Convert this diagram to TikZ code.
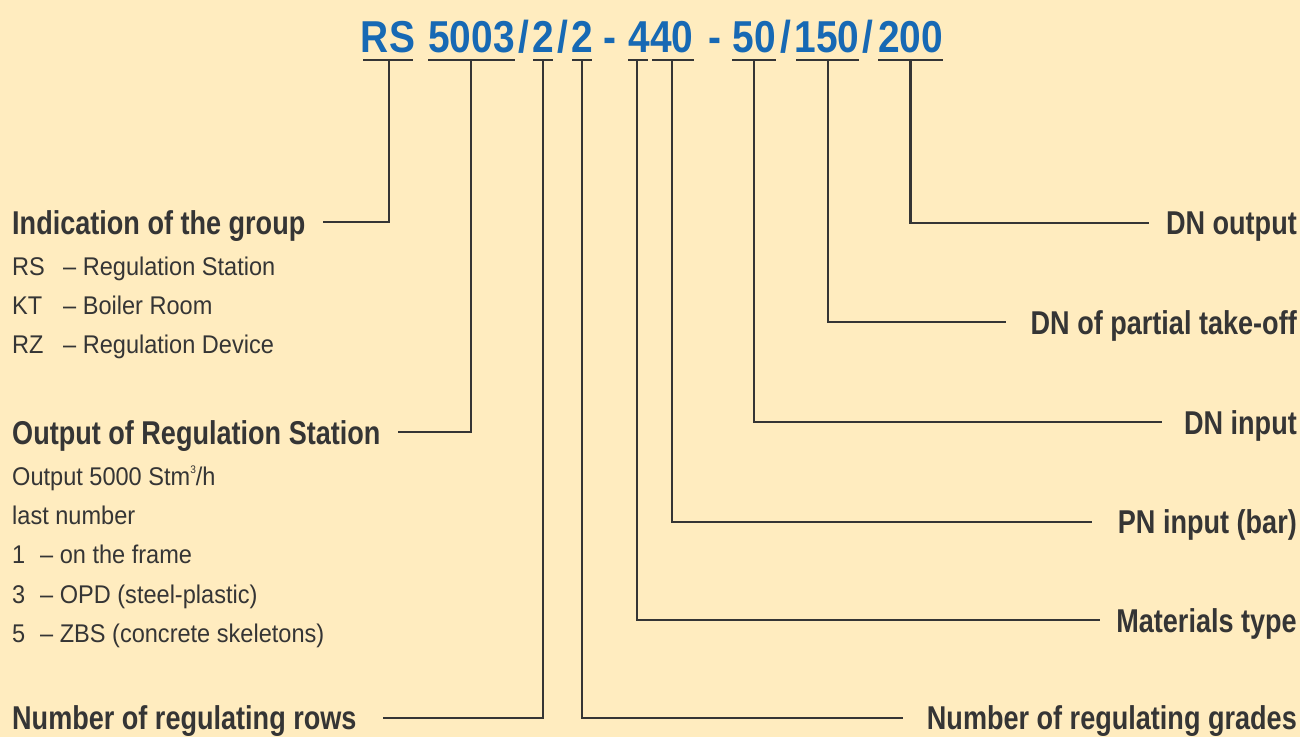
\documentclass[tikz,border=0pt]{standalone}
\usepackage{fontspec}
\setmainfont{Liberation Sans}
\newfontfamily\boldcond[FakeStretch=0.82]{Liberation Sans}
\newfontfamily\regcond[FakeStretch=0.92]{Liberation Sans}
\newfontfamily\titlecond[FakeStretch=0.87]{Liberation Sans}
\definecolor{bgyellow}{HTML}{FFECBF}
\definecolor{codeblue}{HTML}{1769B4}
\definecolor{ink}{HTML}{353535}
\begin{document}
\begin{tikzpicture}[x=1pt,y=-1pt,
  titletok/.style={font=\titlecond\bfseries\fontsize{44.7}{44.7}\selectfont, text=codeblue, inner sep=0pt, anchor=base},
  head/.style={font=\boldcond\bfseries\fontsize{33}{33}\selectfont, text=ink, inner sep=0pt, anchor=base west},
  headr/.style={head, anchor=base east},
  body/.style={font=\regcond\fontsize{25.6}{25.6}\selectfont, text=ink, inner sep=0pt, anchor=base west},
  lead/.style={draw=ink, line width=2.5pt},
  underbar/.style={draw=ink, line width=2.8pt}]
\fill[bgyellow] (0,0) rectangle (1300,737);
\useasboundingbox (0,0) rectangle (1300,737);

% ---- code line ----
\node[titletok] (tRS)   at (388,52)   {RS};
\node[titletok] (t5003) at (471.5,52) {5003};
\node[titletok] (sl1)   at (524,52)   {/};
\node[titletok] (t2a)   at (543,52)   {2};
\node[titletok] (sl2)   at (562.5,52) {/};
\node[titletok] (t2b)   at (582,52)   {2};
\node[titletok] (dh1)   at (610,52)   {-};
\node[titletok] (t440)  at (661,52)   {440};
\node[titletok] (dh2)   at (714.5,52) {-};
\node[titletok] (t50)   at (754,52)   {50};
\node[titletok] (sl3)   at (786,52)   {/};
\node[titletok] (t150)  at (827,52)   {150};
\node[titletok] (sl4)   at (868,52)   {/};
\node[titletok] (t200)  at (910.5,52) {200};

% underbars
\draw[underbar] (363,60) -- (413,60);
\draw[underbar] (428,60) -- (515,60);
\draw[underbar] (533,60) -- (553,60);
\draw[underbar] (572,60) -- (592,60);
\draw[underbar] (628,60) -- (648,60);
\draw[underbar] (652,60) -- (694,60);
\draw[underbar] (732,60) -- (776,60);
\draw[underbar] (796,60) -- (859,60);
\draw[underbar] (878,60) -- (943,60);

\coordinate (bRS)   at (389,60);
\coordinate (b5003) at (471,60);
\coordinate (b2a)   at (543,60);
\coordinate (b2b)   at (582,60);
\coordinate (b4)    at (637,60);
\coordinate (b40)   at (672,60);
\coordinate (b50)   at (754,60);
\coordinate (b150)  at (828,60);
\coordinate (b200)  at (910.5,60);

% ---- left labels ----
\node[head] (grp) at (12,234) {Indication of the group};
\node[body] (rsA) at (12,275) {RS};
\node[body] (rsB) at (63,275) {– Regulation Station};
\node[body] (ktA) at (12,314) {KT};
\node[body] (ktB) at (63,314) {– Boiler Room};
\node[body] (rzA) at (12,353) {RZ};
\node[body] (rzB) at (63,353) {– Regulation Device};

\node[head] (outp) at (12,444) {Output of Regulation Station};
\node[body] (o1) at (12,485) {Output 5000 Stm\raisebox{0.45em}{\fontsize{11}{11}\selectfont 3}/h};
\node[body] (o2) at (12,524) {last number};
\node[body] (n1a) at (12,563) {1};
\node[body] (n1b) at (40,563) {– on the frame};
\node[body] (n3a) at (12,603) {3};
\node[body] (n3b) at (40,603) {– OPD (steel-plastic)};
\node[body] (n5a) at (12,642) {5};
\node[body] (n5b) at (40,642) {– ZBS (concrete skeletons)};

\node[head] (rows) at (12,729) {Number of regulating rows};

% ---- right labels ----
\node[headr] (dnout)  at (1297,234) {DN output};
\node[headr] (dnpart) at (1297,334) {DN of partial take-off};
\node[headr] (dnin)   at (1297,434) {DN input};
\node[headr] (pnin)   at (1297,533) {PN input (bar)};
\node[headr] (mat)    at (1297,632) {Materials type};
\node[headr] (grades) at (1297,729) {Number of regulating grades};

% line ends
\coordinate (eGrp)    at (323,222);
\coordinate (eOutp)   at (398,432);
\coordinate (eRows)   at (383,718);
\coordinate (eGrades) at (903,718);
\coordinate (eMat)    at (1100,620);
\coordinate (ePN)     at (1092,522);
\coordinate (eDNin)   at (1162,422);
\coordinate (eDNpart) at (1006,322);
\coordinate (eDNout)  at (1149,223);

% connectors
\draw[lead] (bRS)   |- (eGrp);
\draw[lead] (b5003) |- (eOutp);
\draw[lead] (b2a)   |- (eRows);
\draw[lead] (b2b)   |- (eGrades);
\draw[lead] (b4)    |- (eMat);
\draw[lead] (b40)   |- (ePN);
\draw[lead] (b50)   |- (eDNin);
\draw[lead] (b150)  |- (eDNpart);
\draw[lead] (b200)  |- (eDNout);
\end{tikzpicture}
\end{document}
